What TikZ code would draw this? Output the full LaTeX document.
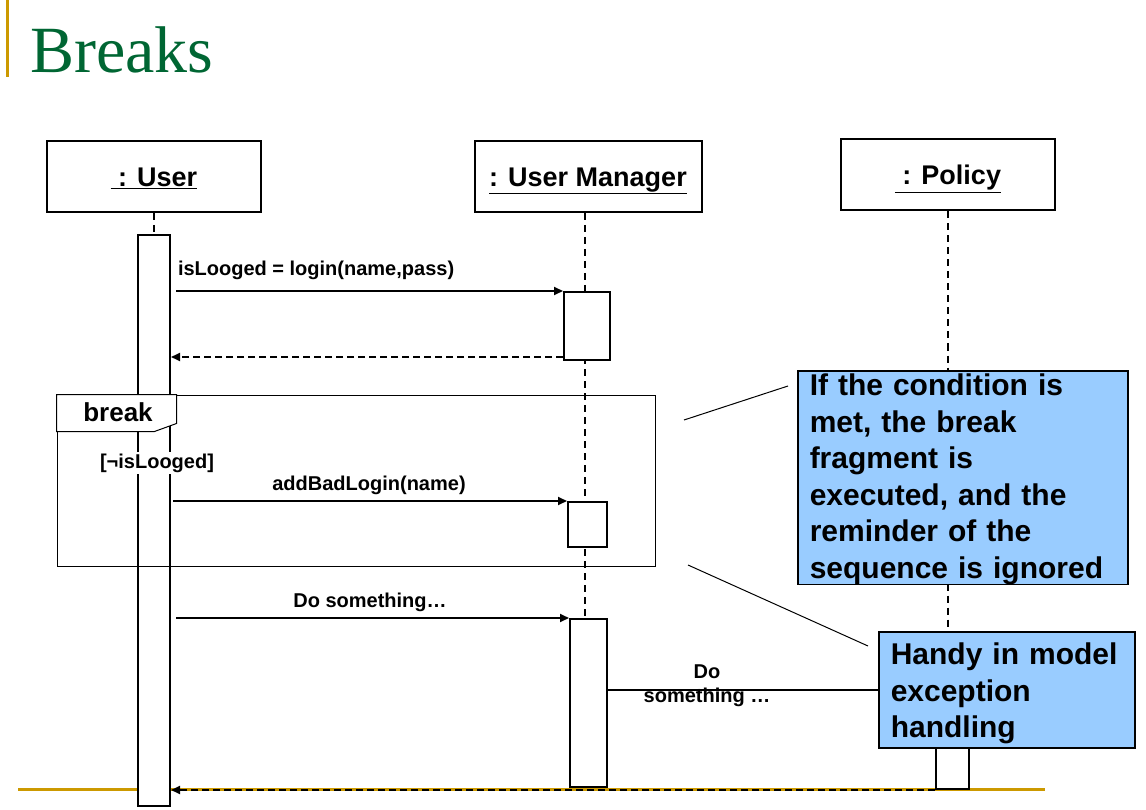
\documentclass[tikz,border=0pt]{standalone}
\usepackage{fontspec}
\setmainfont{Liberation Sans}
\newfontfamily\titlefont{Liberation Serif}
\usepackage{tikz}
\usetikzlibrary{arrows.meta, positioning}
\definecolor{slidegold}{RGB}{204,153,0}
\definecolor{slidegreen}{RGB}{0,102,51}
\definecolor{noteblue}{RGB}{153,204,255}
\tikzstyle{head} = [draw, line width=2pt, minimum width=214pt, minimum height=71pt, text height=20pt, text depth=0pt, font=\fontsize{27}{32}\selectfont\bfseries]
\tikzstyle{act} = [draw, line width=2pt, fill=white, inner sep=0pt]
\tikzstyle{lifeline} = [line width=1.5pt, dash pattern=on 7pt off 5pt]
\tikzstyle{msg} = [line width=2pt, -{Triangle[length=9pt,width=8pt]}]
\tikzstyle{ret} = [msg, dash pattern=on 7pt off 4pt]
\tikzstyle{lbl} = [font=\fontsize{20}{24}\selectfont\bfseries]
\tikzstyle{note} = [draw, line width=1.5pt, fill=noteblue, align=left, anchor=north west, inner xsep=12pt, inner ysep=1pt, font=\fontsize{30}{36.5}\selectfont\bfseries]
\tikzstyle{pointer} = [line width=1pt]

\begin{document}
\begin{tikzpicture}[x=1pt, y=-1pt]
    \useasboundingbox (0,0) rectangle (1146,810);
    % slide decoration
    \draw[slidegold, line width=3pt] (7.5,0) -- (7.5,77);
    \node[anchor=base west, inner sep=0pt, text=slidegreen, font=\titlefont\fontsize{66}{70}\selectfont] (title) at (30,73) {Breaks};
    \coordinate (gl) at (18,789);
    \coordinate (gr) at (1045,789);
    \draw[slidegold, line width=3pt] (gl) -- (gr);

    \node[head] (user) at (154,176.5) {\underline{\ : User}};
    \node[head, minimum width=227pt] (mgr) at (588,176.5) {\underline{: User Manager}};
    \node[head] (policy) at (948,175) {\underline{\ : Policy}};

    \coordinate (mgrend) at (585,787);
    \coordinate (polend) at (948,760);
    \draw[lifeline] (user.south) -- (154,240);
    \draw[lifeline] (mgr.south -| mgrend) -- (mgrend);
    \draw[lifeline] (policy.south) -- (polend);

    \node[act, minimum width=32pt, minimum height=571pt] (uact) at (154,520.5) {};
    \node[act, minimum width=46pt, minimum height=68pt] (m1) at (587,326) {};
    \node[act, minimum width=39pt, minimum height=45pt] (m2) at (587.5,524.5) {};
    \node[act, minimum width=37pt, minimum height=168pt] (m3) at (588.5,703) {};
    \node[act, minimum width=33pt, minimum height=50pt] (pact) at (952.5,764) {};

    % break fragment
    \node[draw, line width=1pt, minimum width=598pt, minimum height=171pt, inner sep=0pt] (brk) at (356,480.5) {};
    \draw[line width=1pt, fill=white] (brk.north west) -- ++(120,0) -- ++(0,29) -- ++(-22,8) -- ++(-98,0) -- cycle;
    \node[font=\fontsize{26}{30}\selectfont\bfseries] (brklabel) at (118,412) {break};
    \node[lbl, fill=white, inner sep=2pt] (guard) at (157,463) {[¬isLooged]};

    \draw[msg, shorten <=5pt] (uact.east |- m1.north) -- (m1.north west)
        node[lbl, pos=0, anchor=south west, inner sep=0pt, xshift=6pt, yshift=10pt] {isLooged = login(name,pass)};
    \draw[ret] ([yshift=4pt]m1.south west) -- ([yshift=4pt]uact.east |- m1.south west);
    \draw[msg, shorten <=2pt] (uact.east |- m2.north) -- (m2.north west)
        node[lbl, midway, inner sep=0pt, above=5pt] {addBadLogin(name)};
    \draw[msg, shorten <=5pt] (uact.east |- m3.north) -- (m3.north west)
        node[lbl, midway, inner sep=0pt, above=5pt] {Do something…};
    \coordinate (y5) at (0,690);
    \draw[msg] (m3.east |- y5) -- (pact.west |- y5);
    \node[lbl, align=center] (dosth) at (707,686) {Do\\something …};
    \draw[ret] (pact.south west) -- (uact.east |- pact.south west);

    \node[note, inner ysep=0pt, text width=306pt, minimum height=213pt] (cond) at (797,370) {\rule{0pt}{25pt}If the condition is\\met, the break\\fragment is\\executed, and the\\reminder of the\\sequence is ignored};
    \node[note, text width=232pt, minimum height=116pt] (handy) at (878,631) {\rule{0pt}{29pt}Handy in model\\exception\\handling};

    \coordinate (p1) at (684,420);
    \coordinate (p2) at (688,565);
    \draw[pointer] (p1) -- ([xshift=-9pt,yshift=-16pt]cond.north west);
    \draw[pointer] (p2) -- ([xshift=-10pt,yshift=-15pt]handy.north west);
\end{tikzpicture}
\end{document}
